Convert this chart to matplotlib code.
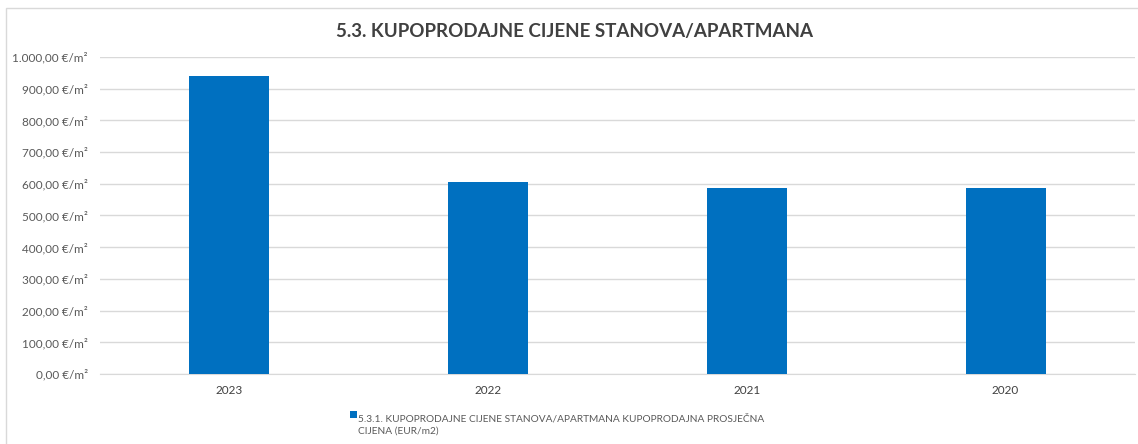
import matplotlib.pyplot as plt
from matplotlib.patches import Rectangle

plt.rcParams['font.family'] = ['Lato', 'DejaVu Sans']

# data
years = ['2023', '2022', '2021', '2020']
prices = [941, 605, 587, 588]
y_ticks = [0, 100, 200, 300, 400, 500, 600, 700, 800, 900, 1000]
y_labels = ['0,00 €/m²', '100,00 €/m²', '200,00 €/m²', '300,00 €/m²', '400,00 €/m²',
            '500,00 €/m²', '600,00 €/m²', '700,00 €/m²', '800,00 €/m²', '900,00 €/m²',
            '1.000,00 €/m²']
title = '5.3. KUPOPRODAJNE CIJENE STANOVA/APARTMANA'
series_name = '5.3.1. KUPOPRODAJNE CIJENE STANOVA/APARTMANA KUPOPRODAJNA PROSJEČNA\nCIJENA (EUR/m2)'

bar_color = '#0070C0'
grid_color = '#D9D9D9'
text_color = '#595959'

W, H = 1138, 444
fig = plt.figure(figsize=(W / 100, H / 100), dpi=100)

# light chart border
fig.patches.append(Rectangle((6 / W, -0.01), 1.02, 1 - 8 / H + 0.01, transform=fig.transFigure,
                             fill=False, edgecolor='#D9D9D9', linewidth=1.0))

ax = fig.add_axes([100 / W, 1 - 374 / H, 1035 / W, 317 / H])
x = list(range(len(years)))
ax.bar(x, prices, width=0.31, color=bar_color, zorder=3)

ax.set_xlim(-0.5, len(years) - 0.5)
ax.set_ylim(0, 1000)
ax.set_yticks(y_ticks)
ax.set_yticklabels(y_labels, color=text_color, fontsize=8.5)
ax.set_xticks(x)
ax.set_xticklabels(years, color='#404040', fontsize=8.5)
ax.tick_params(axis='both', length=0, pad=9)
ax.tick_params(axis='x', pad=8)
ax.grid(axis='y', color=grid_color, linewidth=1, zorder=0)
for s in ['top', 'right', 'left']:
    ax.spines[s].set_visible(False)
ax.spines['bottom'].set_color(grid_color)

fig.text(575 / W, 1 - 31 / H, title, ha='center', va='center',
         fontsize=13.5, fontweight='bold', color='#404040')

# legend
fig.patches.append(Rectangle((350 / W, 1 - 418 / H), 7 / W, 7 / H, transform=fig.transFigure,
                             facecolor=bar_color, edgecolor='none'))
fig.text(358 / W, 1 - 414 / H, series_name, ha='left', va='top',
         fontsize=7.3, color=text_color, linespacing=1.45)

fig.savefig('out.png', dpi=100)
